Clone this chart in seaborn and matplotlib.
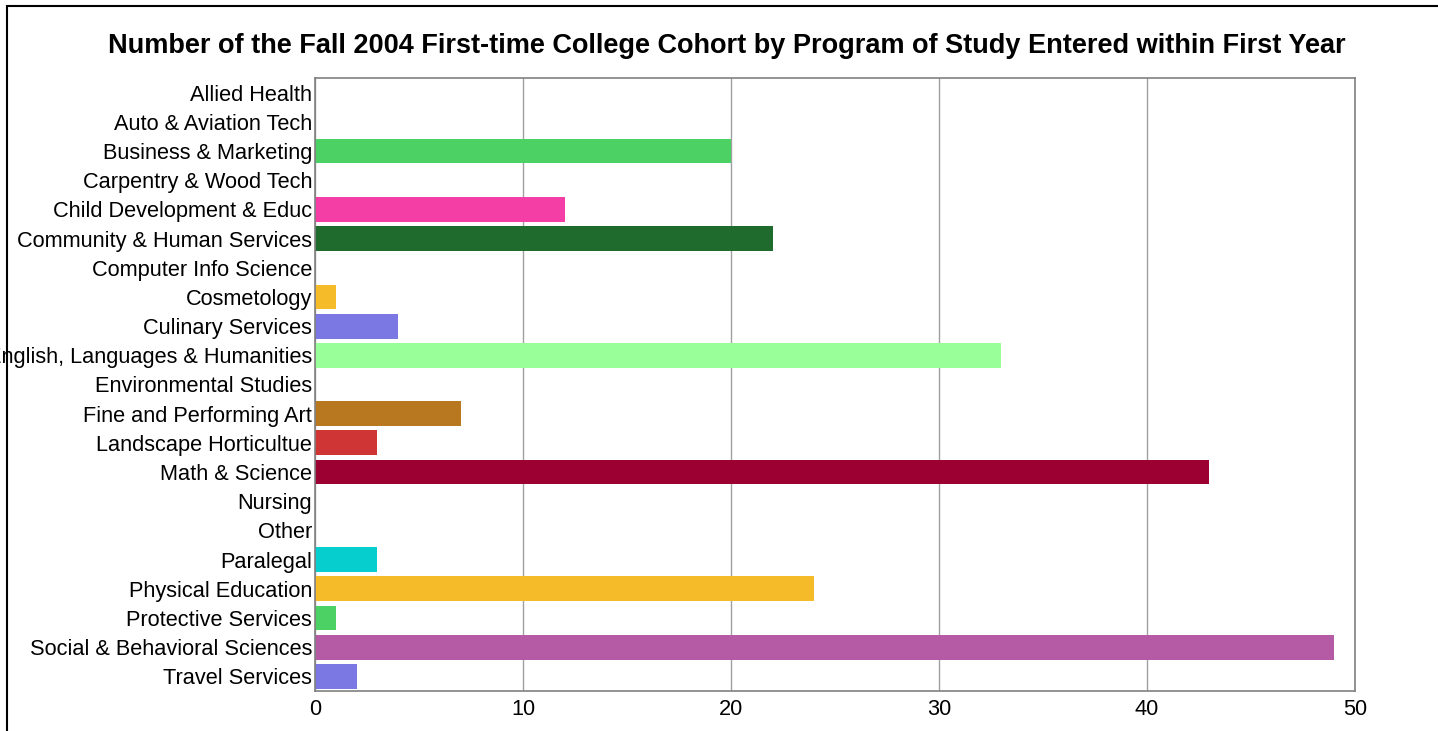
import matplotlib
matplotlib.use("Agg")
import matplotlib.pyplot as plt
import seaborn as sns
import numpy as np
from matplotlib.patches import Rectangle

programs = [
    "Allied Health", "Auto & Aviation Tech", "Business & Marketing",
    "Carpentry & Wood Tech", "Child Development & Educ",
    "Community & Human Services", "Computer Info Science", "Cosmetology",
    "Culinary Services", "English, Languages & Humanities",
    "Environmental Studies", "Fine and Performing Art", "Landscape Horticultue",
    "Math & Science", "Nursing", "Other", "Paralegal", "Physical Education",
    "Protective Services", "Social & Behavioral Sciences", "Travel Services",
]
counts = [0, 0, 20, 0, 12, 22, 0, 1, 4, 33, 0, 7, 3, 43, 0, 0, 3, 24, 1, 49, 2]
bar_colors = [
    "#7b78e3", "#9c0033", "#4cd264", "#f6bb29", "#f43ea6",
    "#1f6b2e", "#cf3535", "#f6bb29", "#7b78e3", "#99ff99",
    "#4cd264", "#b87820", "#cf3535", "#9c0033", "#07cece",
    "#b55ba6", "#07cece", "#f6bb29", "#4cd264", "#b55ba6", "#7b78e3",
]
x_ticks = [0, 10, 20, 30, 40, 50]

sns.set_style("white")
plt.rcParams["font.family"] = ["Liberation Sans", "DejaVu Sans"]
plt.rcParams["text.color"] = "black"
plt.rcParams["xtick.color"] = "black"
plt.rcParams["ytick.color"] = "black"

fig = plt.figure(figsize=(14.38, 7.31), dpi=100)
ax = fig.add_axes([315 / 1438, 1 - 691 / 731, 1040 / 1438, 613 / 731])

sns.barplot(
    x=counts, y=programs, hue=programs, palette=bar_colors,
    orient="h", legend=False, width=0.85, ax=ax, saturation=1,
    edgecolor="none",
)

ax.set_xlim(0, 50)
ax.set_ylim(len(programs) - 0.5, -0.5)
ax.set_xticks(x_ticks)
ax.set_xticklabels([str(t) for t in x_ticks], fontsize=15.7, color="black")
ax.set_yticks(range(len(programs)))
ax.set_yticklabels(programs, fontsize=15.7, color="black")
ax.set_yticks(np.arange(-0.5, len(programs), 1), minor=True)
ax.tick_params(axis="y", which="major", length=0, pad=2)
ax.tick_params(axis="y", which="minor", length=3, color="#808080", width=1)
ax.tick_params(axis="x", which="major", length=4, color="#808080", width=1, pad=2)
ax.xaxis.grid(True, color="#a0a0a0", linewidth=1)
ax.set_axisbelow(True)
for s in ax.spines.values():
    s.set_color("#808080")
    s.set_linewidth(1.2)
ax.set_xlabel("")
ax.set_ylabel("")

fig.text(0.5055, 1 - 46 / 731, "Number of the Fall 2004 First-time College Cohort by Program of Study Entered within First Year",
         ha="center", va="center", fontsize=19.5, fontweight="bold", color="black")

fig.patches.append(Rectangle((7 / 1438, -0.1), 1.2, 1 - 6 / 731 + 0.1, transform=fig.transFigure,
                             fill=False, edgecolor="black", linewidth=1.5))

fig.savefig("out.png", dpi=100)
